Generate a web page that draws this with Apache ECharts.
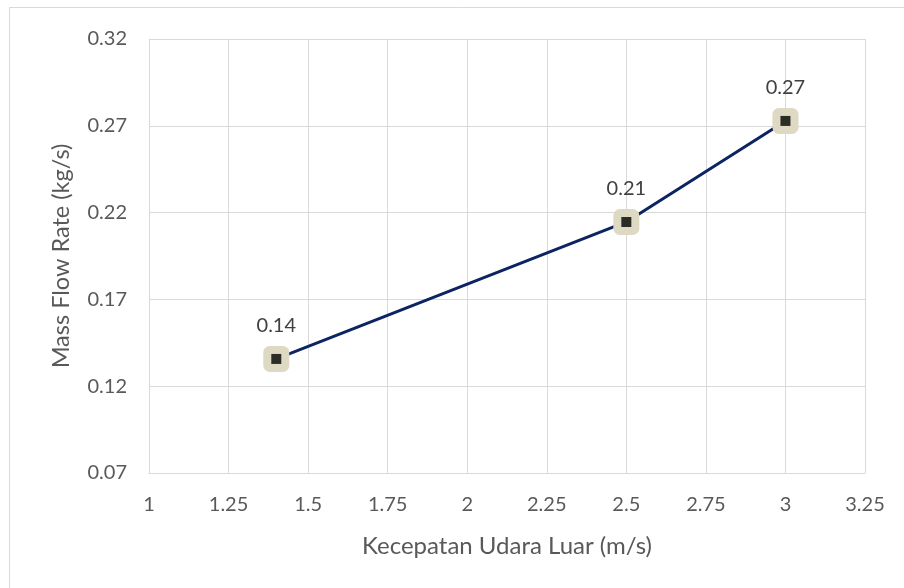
<!DOCTYPE html>
<html><head><meta charset="utf-8">
<script src="https://cdn.jsdelivr.net/npm/echarts@6/dist/echarts.min.js"></script>
<style>html,body{margin:0;padding:0;background:#fff}#c{width:904px;height:588px}</style>
</head><body><div id="c"></div>
<script>
var xValues = [1.4, 2.5, 3];
var yValues = [0.1357, 0.2146, 0.2728];
var labels = ['0.14', '0.21', '0.27'];
var xName = 'Kecepatan Udara Luar (m/s)';
var yName = 'Mass Flow Rate (kg/s)';

var pts = xValues.map(function(x, i){ return [x, yValues[i]]; });
var chart = echarts.init(document.getElementById('c'));
var font = 'Lato, "Open Sans", sans-serif';
chart.setOption({
  animation: false,
  graphic: [{type:'rect', shape:{x:9.5, y:7.5, width:1000, height:1000}, style:{fill:'none', stroke:'#d9d9d9', lineWidth:1}}],
  grid: {left:149, right:39, top:39, bottom:115},
  xAxis: {
    type:'value', min:1, max:3.25, interval:0.25,
    name: xName, nameLocation:'middle', nameGap:61,
    nameTextStyle:{fontSize:24, color:'#595959', fontFamily:font},
    axisLine:{show:true, lineStyle:{color:'#d9d9d9'}},
    axisTick:{show:false},
    axisLabel:{fontSize:20, color:'#595959', fontFamily:font, margin:22},
    splitLine:{show:true, lineStyle:{color:'#d9d9d9', width:1}}
  },
  yAxis: {
    type:'value', min:0.07, max:0.32, interval:0.05,
    name: yName, nameLocation:'middle', nameGap:76,
    nameTextStyle:{fontSize:23.5, color:'#595959', fontFamily:font},
    axisLine:{show:true, lineStyle:{color:'#d9d9d9'}},
    axisTick:{show:false},
    axisLabel:{fontSize:20, color:'#595959', fontFamily:font, margin:22,
      formatter:function(v){ return (Math.round(v*100)/100).toString(); }},
    splitLine:{show:true, lineStyle:{color:'#d9d9d9', width:1}}
  },
  series: [{
    type:'line', data: pts,
    lineStyle:{color:'#0d2463', width:3},
    symbol:'roundRect', symbolSize:26,
    itemStyle:{color:'#ddd9c3', borderWidth:0},
    label:{show:true, position:'top', distance:10, fontSize:20, color:'#404040', fontFamily:font,
      formatter:function(p){ return labels[p.dataIndex]; }},
    z:2
  },{
    type:'scatter', data: pts, symbol:'rect', symbolSize:10,
    itemStyle:{color:'#000'}, z:3
  }]
});
</script></body></html>
